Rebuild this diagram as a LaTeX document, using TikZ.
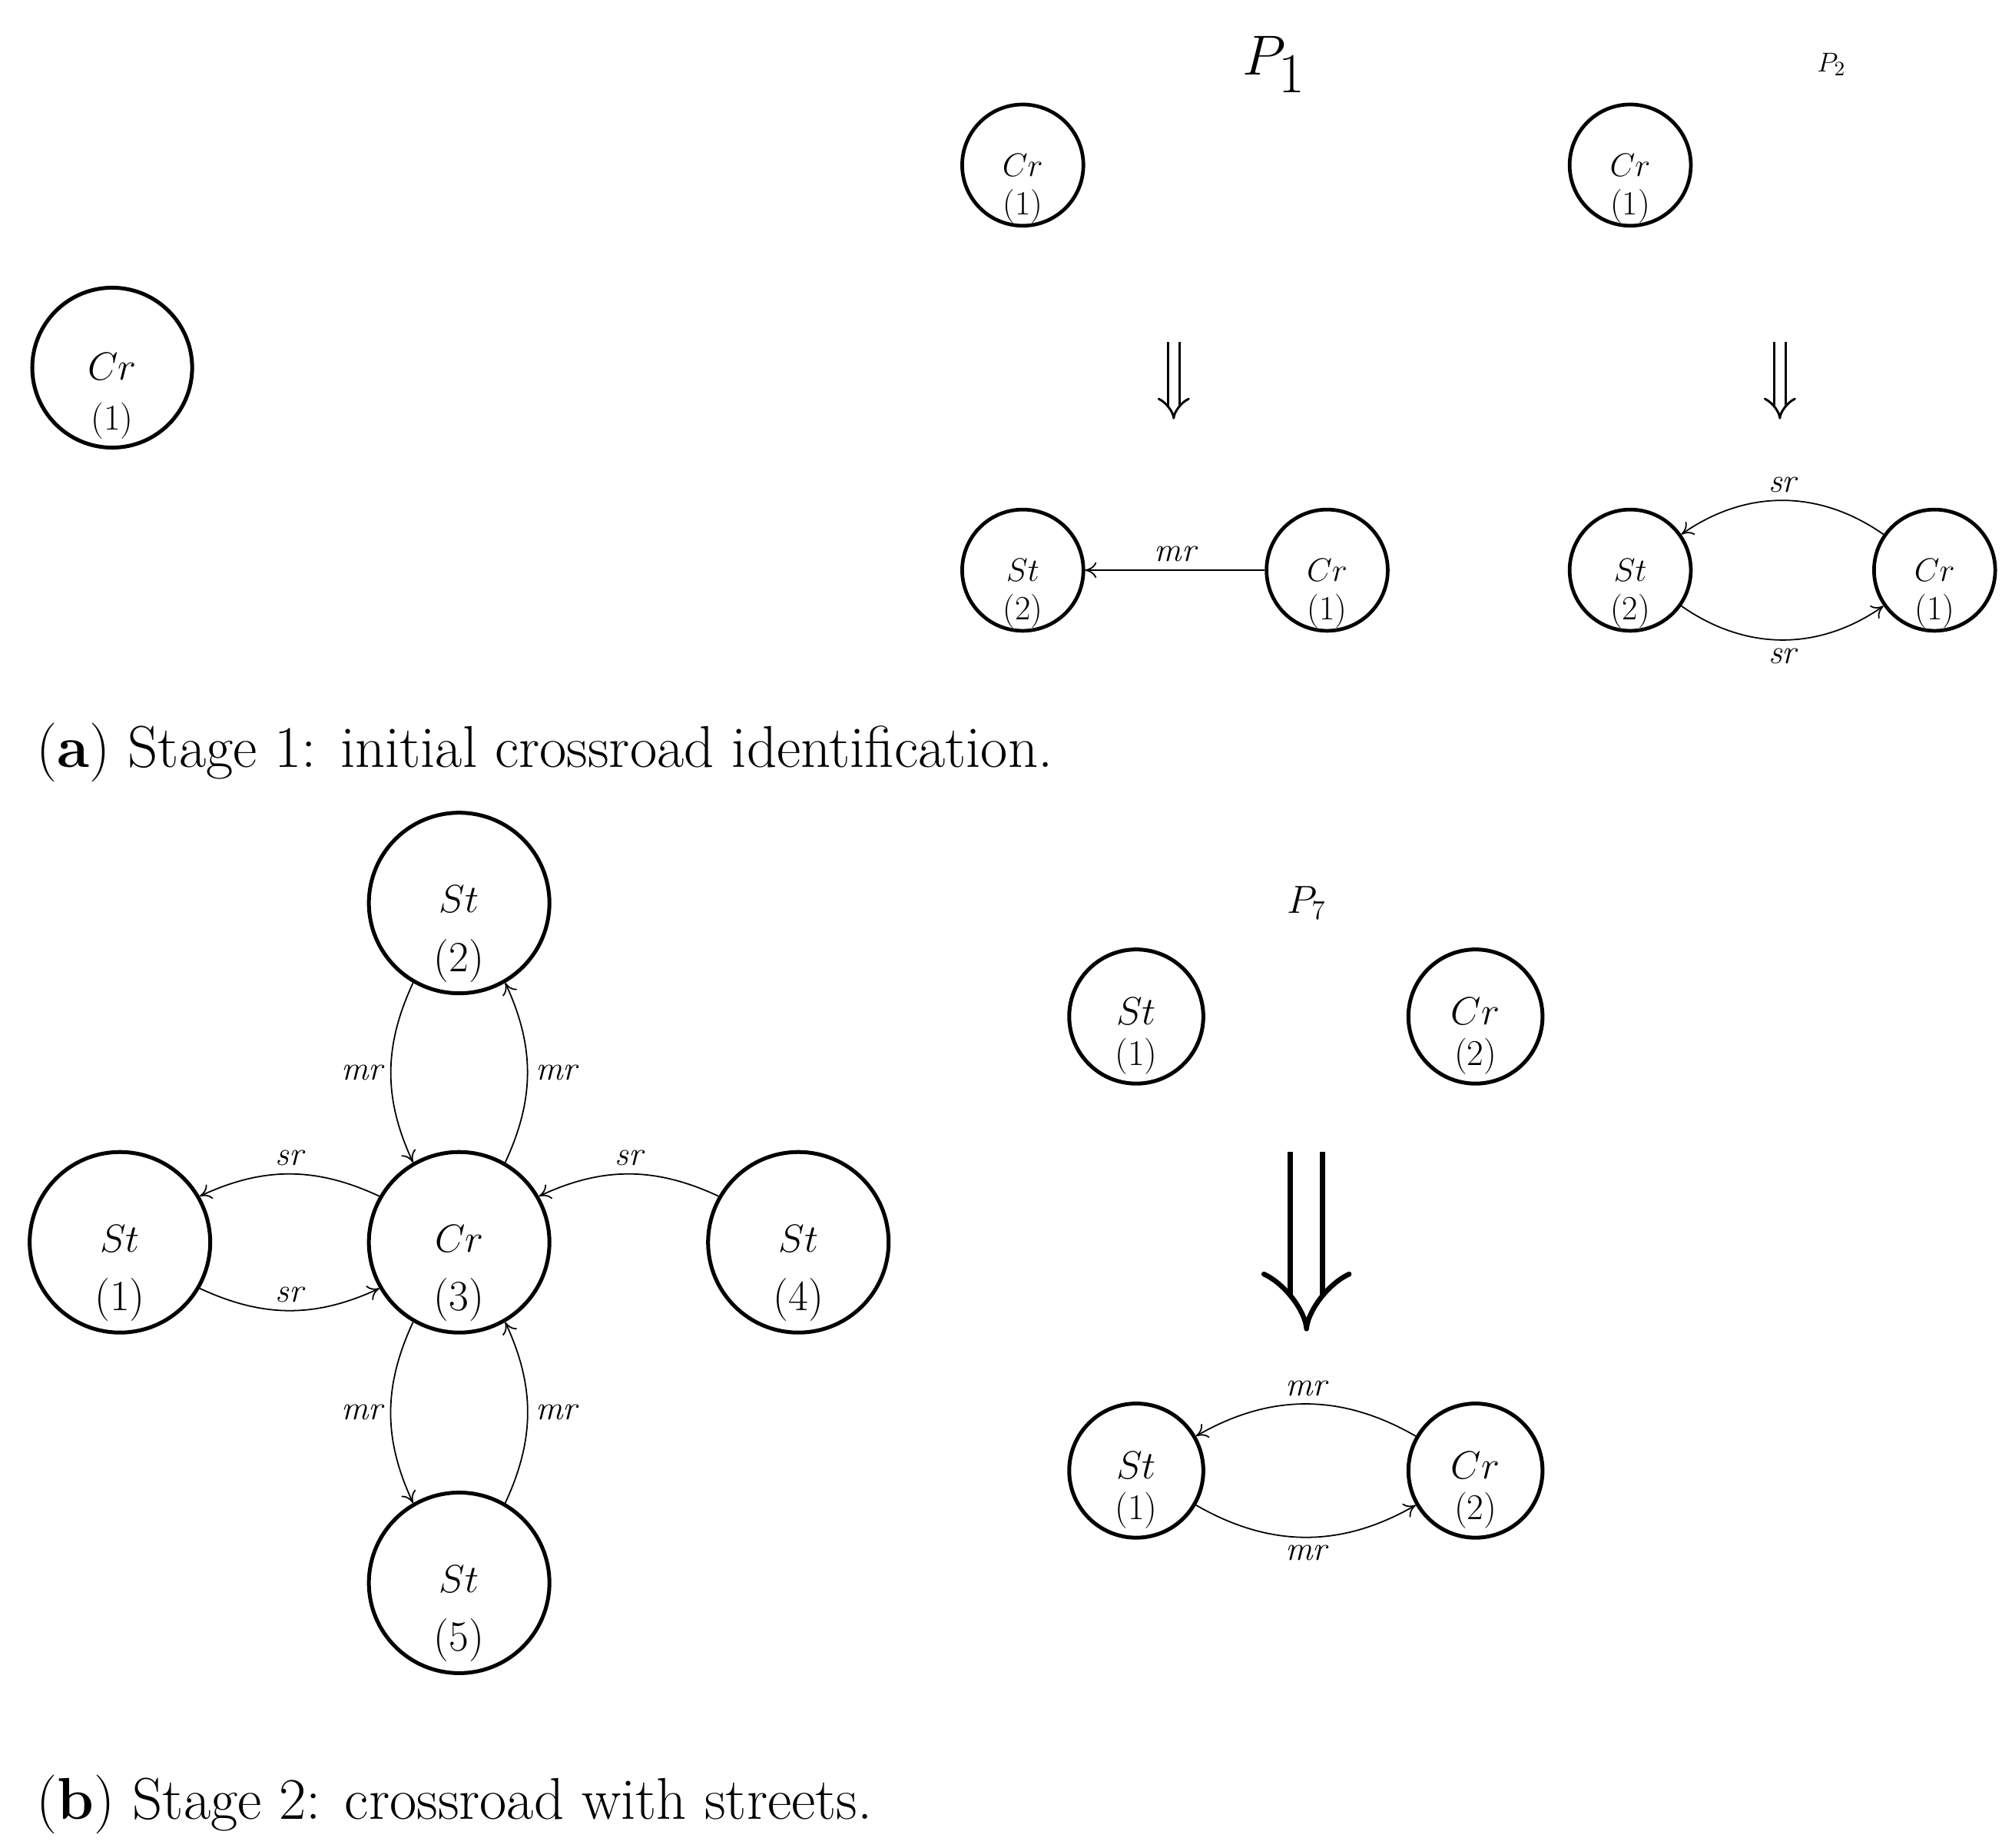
\documentclass[tikz,border=0pt]{standalone}
\usetikzlibrary{arrows.meta}
\begin{document}
\begin{tikzpicture}[x=0.02cm,y=-0.02cm,
  sn/.style={circle,draw,line width=1.6pt,minimum size=1.88cm,inner sep=0pt},
  snt/.style={align=center,yshift=-0.36cm,font=\fontsize{15}{17}\selectfont},
  bn/.style={circle,draw,line width=1.7pt,minimum size=2.8cm,inner sep=0pt},
  bnt/.style={align=center,yshift=-0.48cm,font=\fontsize{19}{26}\selectfont},
  mn/.style={circle,draw,line width=1.7pt,minimum size=2.08cm,inner sep=0pt},
  mnt/.style={align=center,yshift=-0.3cm,font=\fontsize{16}{18}\selectfont},
  e/.style={line width=0.6pt,-{To[length=5pt,width=7pt]}},
  lb/.style={font=\fontsize{15}{17}\selectfont\itshape},
  big/.style={double,double distance=4pt,line width=1pt,-{Implies[length=8pt]}},
  captxt/.style={anchor=base west,font=\fontsize{26}{28}\selectfont}]
\useasboundingbox (0,0) rectangle (1560,1432);
% Stage 1
\node[circle,draw,line width=1.7pt,minimum size=2.48cm,inner sep=0pt,label={[align=center,yshift=-0.44cm,font=\fontsize{16}{22}\selectfont]center:{$Cr$\\(1)}}] (a0) at (87,285) {};
\node[font=\fontsize{34}{36}\selectfont] (p1) at (988,50) {$P_1$};
\node[sn,label={[snt]center:{$Cr$\\(1)}}] (a1) at (793,128) {};
\coordinate (d1s) at (910,265); \coordinate (d1e) at (910,325);
\draw[big] (d1s) -- (d1e);
\node[sn,label={[snt]center:{$St$\\(2)}}] (a2) at (793,442) {};
\node[sn,label={[snt]center:{$Cr$\\(1)}}] (a3) at (1029,442) {};
\draw[e] (a3) -- node[lb,above]{mr} (a2);
\node[font=\fontsize{13}{15}\selectfont] (p2) at (1420,50) {$P_2$};
\node[sn,label={[snt]center:{$Cr$\\(1)}}] (b1) at (1264,128) {};
\coordinate (d2s) at (1380,265); \coordinate (d2e) at (1380,325);
\draw[big] (d2s) -- (d2e);
\node[sn,label={[snt]center:{$St$\\(2)}}] (b2) at (1264,442) {};
\node[sn,label={[snt]center:{$Cr$\\(1)}}] (b3) at (1500,442) {};
\draw[e] (b3) to[bend right=35] node[lb,above]{sr} (b2);
\draw[e] (b2) to[bend right=35] node[lb,below]{sr} (b3);
\node[captxt] (ca) at (22,595) {(\textbf{a}) Stage 1: initial crossroad identification.};
% Stage 2
\node[bn,label={[bnt]center:{$St$\\(2)}}] (c2) at (356,700) {};
\node[bn,label={[bnt]center:{$Cr$\\(3)}}] (c3) at (356,963) {};
\node[bn,label={[bnt]center:{$St$\\(1)}}] (c1) at (93,963) {};
\node[bn,label={[bnt]center:{$St$\\(4)}}] (c4) at (619,963) {};
\node[bn,label={[bnt]center:{$St$\\(5)}}] (c5) at (356,1227) {};
\draw[e] (c3.60) to[bend right=25] node[lb,right]{mr} (c2.-60);
\draw[e] (c2.-120) to[bend right=25] node[lb,left]{mr} (c3.120);
\draw[e] (c3.150) to[bend right=25] node[lb,above]{sr} (c1.30);
\draw[e] (c1.-30) to[bend right=25] node[lb,above]{sr} (c3.-150);
\draw[e] (c4.150) to[bend right=25] node[lb,above]{sr} (c3.30);
\draw[e] (c3.-120) to[bend right=25] node[lb,left]{mr} (c5.120);
\draw[e] (c5.60) to[bend right=25] node[lb,right]{mr} (c3.-60);
\node[font=\fontsize{17}{19}\selectfont] (p7) at (1013,700) {$P_7$};
\node[mn,label={[mnt]center:{$St$\\(1)}}] (d1) at (881,788) {};
\node[mn,label={[mnt]center:{$Cr$\\(2)}}] (d2) at (1144,788) {};
\coordinate (d3s) at (1013,893); \coordinate (d3e) at (1013,1032);
\draw[double,double distance=12pt,line width=2.2pt,-{Implies[length=14pt]}] (d3s) -- (d3e);
\node[mn,label={[mnt]center:{$St$\\(1)}}] (d3) at (881,1140) {};
\node[mn,label={[mnt]center:{$Cr$\\(2)}}] (d4) at (1144,1140) {};
\draw[e] (d4) to[bend right=30] node[lb,above]{mr} (d3);
\draw[e] (d3) to[bend right=30] node[lb,below]{mr} (d4);
\node[captxt] (cb) at (22,1410) {(\textbf{b}) Stage 2: crossroad with streets.};
\end{tikzpicture}
\end{document}
